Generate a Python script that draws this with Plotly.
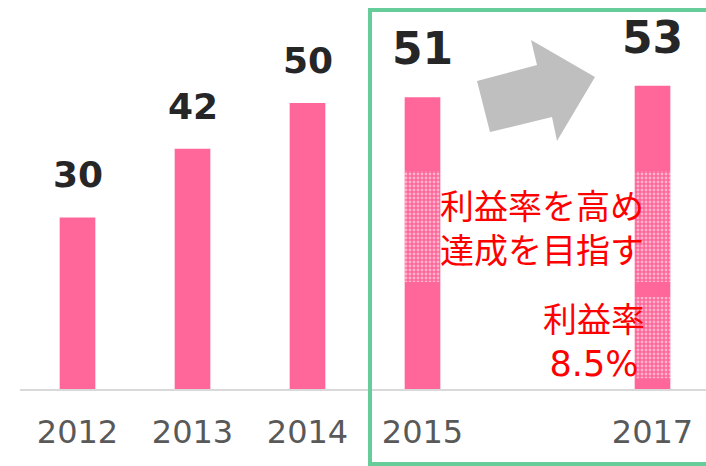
import plotly.graph_objects as go

# data
years = [2012, 2013, 2014, 2015, 2017]
sales = [30, 42, 50, 51, 53]
year_labels = ["2012", "2013", "2014", "2015", "2017"]
band_years = [2015, 2017]
band_low = [18.7, 18.7]
band_high = [38.1, 38.1]
margin_year = [2017]
margin_low = [1.9]
margin_high = [16.1]

PINK = "#FF6699"
GREEN = "#66CC99"
GREY = "#BFBFBF"

# plot-area pixel box, used to place the decorations
L, R, T, B = 20, 706, 0, 389
W, H = R - L, B - T


def px(x, y):
    return (x - L) / W, (B - y) / H


fig = go.Figure()
fig.add_trace(go.Bar(x=years, y=sales, width=0.31, marker=dict(color=PINK, line_width=0),
                     hoverinfo="skip"))
dots = dict(color="rgba(0,0,0,0)", line_width=0,
            pattern=dict(shape=".", fgcolor="white", size=4, solidity=0.4, fillmode="overlay"))
fig.add_trace(go.Bar(x=band_years, base=band_low,
                     y=[h - l for h, l in zip(band_high, band_low)],
                     width=0.31, marker=dots, hoverinfo="skip"))
fig.add_trace(go.Bar(x=margin_year, base=margin_low,
                     y=[h - l for h, l in zip(margin_high, margin_low)],
                     width=0.31, marker=dots, hoverinfo="skip"))

# value labels above bars
for x, v in zip(years, sales):
    big = x >= 2015
    fig.add_annotation(x=x, y=v, text=f"<b>{v}</b>", showarrow=False, yanchor="bottom",
                       yshift=20 if not big else 21,
                       font=dict(family="DejaVu Sans", size=44 if big else 36, color="#262626"))

# target box
x0, y0 = px(370, 464)
x1, y1 = px(712, 10)
fig.add_shape(type="rect", xref="paper", yref="paper", x0=x0, y0=y0, x1=x1, y1=y1,
              line=dict(color=GREEN, width=4), fillcolor="rgba(0,0,0,0)", layer="above")

# grey arrow
pts = [(477, 81), (537, 65), (531, 40), (595, 77), (557, 141), (552, 117), (490, 132)]
path = "M " + " L ".join(f"{px(a, b)[0]:.4f},{px(a, b)[1]:.4f}" for a, b in pts) + " Z"
fig.add_shape(type="path", xref="paper", yref="paper", path=path,
              fillcolor=GREY, line_width=0, layer="above")

jp = dict(family="Noto Sans CJK JP", size=34, color="#FF0000")
ax, ay = px(542, 226)
fig.add_annotation(xref="paper", yref="paper", x=ax, y=ay, xanchor="center", yanchor="middle",
                   text="利益率を高め<br>達成を目指す", showarrow=False, font=jp, align="left")
ax, ay = px(594, 338)
fig.add_annotation(xref="paper", yref="paper", x=ax, y=ay, xanchor="center", yanchor="middle",
                   text="利益率<br><span style='font-family:DejaVu Sans;font-size:35px'>8.5%</span>",
                   showarrow=False, font=jp, align="center")

fig.update_layout(
    width=706, height=466, margin=dict(l=L, r=706 - R, t=T, b=466 - B),
    paper_bgcolor="white", plot_bgcolor="white", showlegend=False,
    barmode="overlay",
    xaxis=dict(range=[2011.5, 2011.5 + W / 115], tickvals=years, ticktext=year_labels,
               showgrid=False, zeroline=False, showline=True, linecolor="#D9D9D9", linewidth=2,
               ticks="outside", ticklen=14, tickcolor="rgba(0,0,0,0)",
               tickfont=dict(family="DejaVu Sans", size=32, color="#595959")),
    yaxis=dict(range=[0, H / 5.72], visible=False, showgrid=False, zeroline=False),
)

fig.write_html("out.html", config={"displayModeBar": False},
               post_script="document.body.style.margin='0';")
